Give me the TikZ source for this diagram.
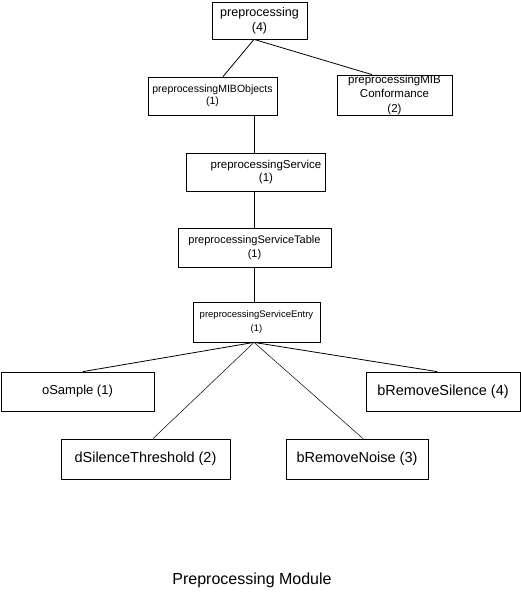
\documentclass[tikz,border=0pt]{standalone}
\usepackage{fontspec}
\setmainfont{Liberation Sans}
\usetikzlibrary{arrows}

\newcommand{\fsz}[2]{\fontsize{#1}{#2}\selectfont}

\begin{document}
\begin{tikzpicture}[x=1pt,y=-1pt,line width=0.8pt]

            \tikzstyle{every text node part}=[align=center]
            \tikzstyle{box}=[rectangle,draw=black,line width=0.8pt,inner sep=0pt]
            \tikzstyle{leaf}=[box,minimum height=39pt,font=\fsz{14.5}{17}]
            \tikzstyle{thin link}=[line width=0.5pt]

            \useasboundingbox (0,0) rectangle (521,594);

            \node[box,minimum width=95pt,minimum height=37pt,font=\fsz{12.5}{15}]  (0) at (259.5,20.5) {preprocessing\\(4)};
            \node[box,minimum width=129pt,minimum height=38pt,font=\fsz{10.5}{11.5}] (1) at (212.5,96) {preprocessingMIBObjects\\(1)};
            \node[box,minimum width=115pt,minimum height=40pt,font=\fsz{11.5}{14.5}] (2) at (394.5,95) {preprocessingMIB\\Conformance\\(2)};
            \node[box,minimum width=139pt,minimum height=38pt,font=\fsz{11.5}{13}]  (3) at (255.5,172) {\hspace*{21pt}preprocessingService\\\hspace*{21pt}(1)};
            \node[box,minimum width=153pt,minimum height=39pt,font=\fsz{11}{14}]    (4) at (254.5,247.5) {preprocessingServiceTable\\(1)};
            \node[box,minimum width=127pt,minimum height=40pt,font=\fsz{9.5}{14}]   (5) at (256.5,322) {preprocessingServiceEntry\\(1)};

            \node[leaf,minimum width=153pt,font=\fsz{13}{15}] (6) at (77.5,391.5) {oSample (1)};
            \node[leaf,minimum width=169pt,minimum height=40pt] (7) at (145.5,459) {dSilenceThreshold (2)};
            \node[leaf,minimum width=142pt,minimum height=40pt] (8) at (357,459) {bRemoveNoise (3)};
            \node[leaf,minimum width=154pt] (9) at (443,391.5) {bRemoveSilence (4)};

            \node[font=\fsz{16}{19}] (10) at (252,580) {Preprocessing Module};

            \draw ([xshift=-5.5pt]0.south) -- ([xshift=10.5pt]1.north);
            \draw ([xshift=-5.5pt]0.south) -- ([xshift=-22.5pt]2.north);
            \draw ([xshift=41.5pt]1.south) -- ([xshift=-1.5pt]3.north);
            \draw ([xshift=-1.5pt]3.south) -- ([xshift=-0.5pt]4.north);
            \draw ([xshift=-0.5pt]4.south) -- ([xshift=-2.5pt]5.north);
            \draw ([xshift=-2.5pt]5.south) -- ([xshift=5.5pt]6.north);
            \draw[thin link] ([xshift=-2.5pt]5.south) -- ([xshift=7.5pt]7.north);
            \draw[thin link] ([xshift=-2.5pt]5.south) -- ([xshift=6pt]8.north);
            \draw ([xshift=-2.5pt]5.south) -- ([xshift=-6pt]9.north);
        \end{tikzpicture}
\end{document}
